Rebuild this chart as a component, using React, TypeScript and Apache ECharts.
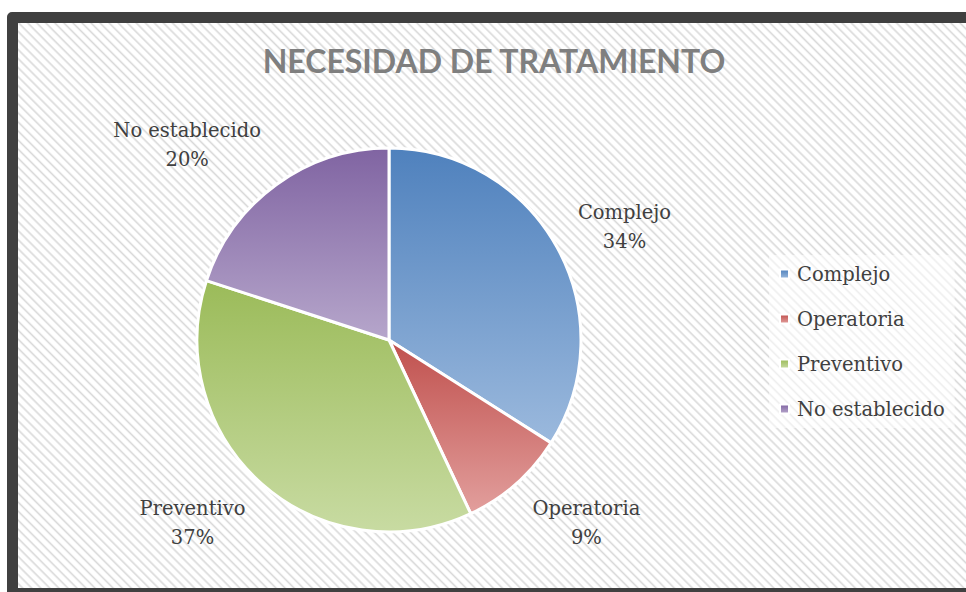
import React, { useEffect, useRef } from "react";
import * as echarts from "echarts";

const title = "NECESIDAD DE TRATAMIENTO";
const categories = ["Complejo", "Operatoria", "Preventivo", "No establecido"];
const values = [34, 9, 37, 20];
const baseColors = ["#4f81bd", "#c0504d", "#9bbb59", "#8064a2"];
const lightColors = ["#9bb9dd", "#e29f9d", "#c8dba2", "#b6a6cb"];

export default function App() {
  const ref = useRef<HTMLDivElement>(null);

  useEffect(() => {
    if (!ref.current) return;
    const chart = echarts.init(ref.current, null, { renderer: "svg" });
    const serif = "'DejaVu Serif', 'Liberation Serif', serif";
    const data = categories.map((name, i) => ({
      name,
      value: values[i],
      itemStyle: {
        color: new echarts.graphic.LinearGradient(0, 0, 0, 1, [
          { offset: 0, color: baseColors[i] },
          { offset: 1, color: lightColors[i] },
        ]),
      },
    }));
    chart.setOption({
      animation: false,
      backgroundColor: "transparent",
      title: {
        text: title,
        left: 489,
        top: 39,
        textAlign: "center",
        textStyle: {
          fontFamily: "Lato, 'Open Sans', sans-serif",
          fontWeight: "bold",
          fontSize: 32,
          color: "#7f7f7f",
        },
      },
      legend: {
        orient: "vertical",
        left: 769,
        top: 255,
        itemWidth: 9,
        itemHeight: 9,
        itemGap: 23,
        icon: "rect",
        padding: [8, 10, 8, 10],
        backgroundColor: "rgba(255,255,255,0.55)",
        data: categories,
        textStyle: {
          fontFamily: serif,
          fontSize: 19.5,
          lineHeight: 22,
          color: "#404040",
          padding: [0, 0, 0, 3],
        },
      },
      series: [
        {
          type: "pie",
          center: [389, 340],
          radius: 192,
          startAngle: 90,
          clockwise: true,
          avoidLabelOverlap: false,
          data,
          itemStyle: { borderColor: "#ffffff", borderWidth: 3 },
          label: {
            show: true,
            position: "outside",
            formatter: "{b}\n{d}%",
            fontFamily: serif,
            fontSize: 19.5,
            lineHeight: 29,
            color: "#404040",
            align: "center",
          },
          labelLine: {
            show: true,
            length: 19,
            length2: 0,
            lineStyle: { width: 0, opacity: 0 },
          },
          labelLayout: (p: any) => {
            const pts = p.labelLinePoints;
            if (!pts || pts.length < 2) return {};
            const p0 = pts[0];
            const p1 = pts[1];
            let ux = p1[0] - p0[0];
            let uy = p1[1] - p0[1];
            const len = Math.hypot(ux, uy) || 1;
            ux /= len;
            uy /= len;
            const w = p.labelRect.width;
            const h = p.labelRect.height;
            const k = 0.85 * Math.min(1, Math.max(0, (Math.abs(uy) - 0.3) / 0.4));
            return {
              x: p1[0] + Math.sign(ux) * (w / 2 + 4),
              y: p1[1] + Math.sign(uy) * (h / 2) * k,
              align: "center",
              verticalAlign: "middle",
            };
          },
          emphasis: { disabled: true },
        },
      ],
    });
    return () => chart.dispose();
  }, []);

  const stripes =
    "repeating-linear-gradient(45deg, #ffffff 0px, #ffffff 1.6px, #d9d9d9 3.2px, #ffffff 4.8px, #ffffff 6.4px)";

  return (
    <div
      style={{
        position: "fixed",
        left: 0,
        top: 0,
        width: 966,
        height: 592,
        overflow: "hidden",
        background: "#ffffff",
      }}
    >
      <div
        style={{
          position: "absolute",
          left: 7,
          top: 12,
          width: 990,
          height: 587,
          boxSizing: "border-box",
          border: "11px solid #404040",
          borderRadius: 5,
          backgroundImage: stripes,
        }}
      />
      <div
        ref={ref}
        style={{ position: "absolute", left: 0, top: 0, width: 966, height: 592 }}
      />
    </div>
  );
}
